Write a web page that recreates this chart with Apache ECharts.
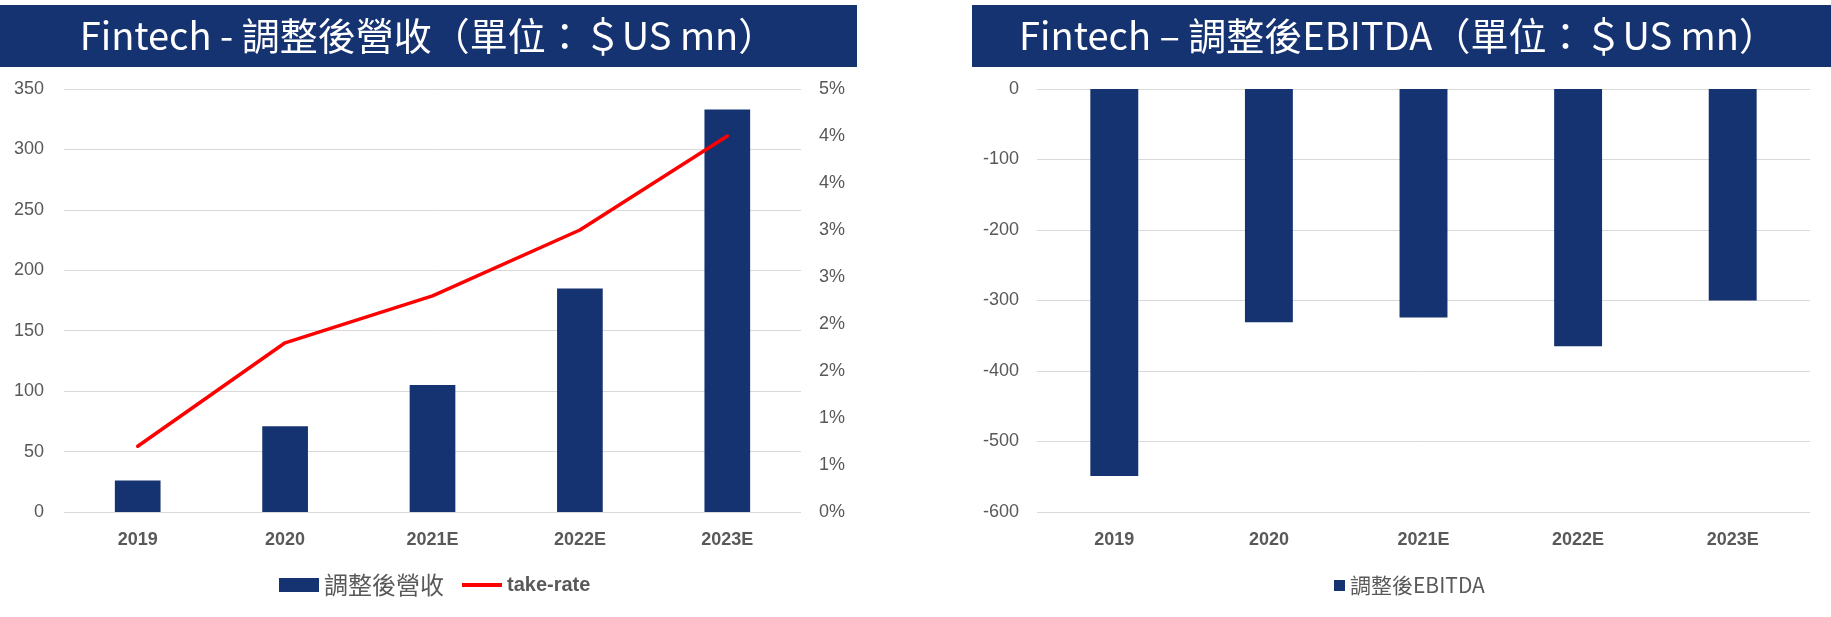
<!DOCTYPE html>
<html>
<head>
<meta charset="utf-8">
<script src="https://cdn.jsdelivr.net/npm/echarts@6/dist/echarts.min.js"></script>
<style>
html,body{margin:0;padding:0;background:#fff;}
#c{width:1831px;height:617px;}
</style>
</head>
<body>
<div id="c"></div>
<script>
const categories = ['2019', '2020', '2021E', '2022E', '2023E'];
const revenue = [26, 71, 105, 185, 333];
const takeRate = [0.0070, 0.0180, 0.0230, 0.0300, 0.0400];
const ebitda = [-549, -331, -324, -365, -300];

const titleLeft = 'Fintech - 調整後營收（單位：＄US mn）';
const titleRight = 'Fintech – 調整後EBITDA（單位：＄US mn）';

const NAVY = '#163371';
const GRAY = '#595959';
const GRID = '#D9D9D9';
const FONT = '"Liberation Sans", "Noto Sans CJK TC", sans-serif';
const CJK = '"Noto Sans CJK TC", "Liberation Sans", sans-serif';

const chart = echarts.init(document.getElementById('c'), null, {renderer: 'canvas'});

const option = {
  backgroundColor: '#fff',
  animation: false,
  textStyle: {fontFamily: FONT},
  graphic: [
    {type: 'rect', shape: {x: 0, y: 5, width: 857, height: 62}, style: {fill: NAVY}, z: 0},
    {type: 'rect', shape: {x: 972, y: 5, width: 859, height: 62}, style: {fill: NAVY}, z: 0},
    {type: 'text', x: 428, y: 36, z: 1, style: {text: titleLeft, fill: '#fff', font: '400 38px ' + CJK, textAlign: 'center', textVerticalAlign: 'middle'}},
    {type: 'text', x: 1398, y: 36, z: 1, style: {text: titleRight, fill: '#fff', font: '400 38px ' + CJK, textAlign: 'center', textVerticalAlign: 'middle'}}
  ],
  legend: [
    {
      data: [
        {name: '調整後營收', icon: 'rect'},
        {name: 'take-rate', icon: 'path://M0,0L40,0L40,4L0,4Z'}
      ],
      left: 274, top: 568,
      itemWidth: 40, itemHeight: 14, itemGap: 18,
      formatter: function (name) { return name === 'take-rate' ? '{b|' + name + '}' : '{n|' + name + '}'; },
      textStyle: {
        color: GRAY,
        rich: {
          n: {fontSize: 24, color: GRAY, fontFamily: CJK},
          b: {fontSize: 20, color: GRAY, fontWeight: 'bold', fontFamily: FONT}
        }
      },
      selectedMode: false
    },
    {
      data: [{name: '調整後EBITDA', icon: 'rect'}],
      left: 1329, top: 570,
      itemWidth: 11, itemHeight: 11, itemGap: 10,
      textStyle: {color: GRAY, fontSize: 21, fontFamily: CJK},
      selectedMode: false
    }
  ],
  grid: [
    {left: 64, top: 89, width: 737, height: 423, containLabel: false},
    {left: 1037, top: 89, width: 773, height: 423, containLabel: false}
  ],
  xAxis: [
    {
      type: 'category', data: categories, gridIndex: 0,
      axisLine: {show: false}, axisTick: {show: false},
      axisLabel: {color: GRAY, fontSize: 18, fontWeight: 'bold', margin: 19}
    },
    {
      type: 'category', data: categories, gridIndex: 1, position: 'bottom',
      axisLine: {show: false, onZero: false}, axisTick: {show: false},
      axisLabel: {color: GRAY, fontSize: 18, fontWeight: 'bold', margin: 19}
    }
  ],
  yAxis: [
    {
      type: 'value', gridIndex: 0, min: 0, max: 350, interval: 50,
      axisLine: {show: false}, axisTick: {show: false},
      splitLine: {lineStyle: {color: GRID, width: 1}},
      axisLabel: {color: GRAY, fontSize: 18, margin: 20}
    },
    {
      type: 'value', gridIndex: 0, position: 'right', min: 0, max: 0.045, interval: 0.005,
      axisLine: {show: false}, axisTick: {show: false},
      splitLine: {show: false},
      axisLabel: {color: GRAY, fontSize: 18, margin: 18,
        formatter: function (v) { return Math.round(Math.round(v * 1000) / 10) + '%'; }}
    },
    {
      type: 'value', gridIndex: 1, min: -600, max: 0, interval: 100,
      axisLine: {show: false}, axisTick: {show: false},
      splitLine: {lineStyle: {color: GRID, width: 1}},
      axisLabel: {color: GRAY, fontSize: 18, margin: 18}
    }
  ],
  series: [
    {
      name: '調整後營收', type: 'bar', xAxisIndex: 0, yAxisIndex: 0,
      data: revenue, barWidth: '31%',
      itemStyle: {color: NAVY}
    },
    {
      name: 'take-rate', type: 'line', xAxisIndex: 0, yAxisIndex: 1,
      data: takeRate, symbol: 'none',
      lineStyle: {color: '#FF0000', width: 3.5, cap: 'round', join: 'round'},
      itemStyle: {color: '#FF0000'}
    },
    {
      name: '調整後EBITDA', type: 'bar', xAxisIndex: 1, yAxisIndex: 2,
      data: ebitda, barWidth: '31%',
      itemStyle: {color: NAVY}
    }
  ]
};
chart.setOption(option);
</script>
</body>
</html>
